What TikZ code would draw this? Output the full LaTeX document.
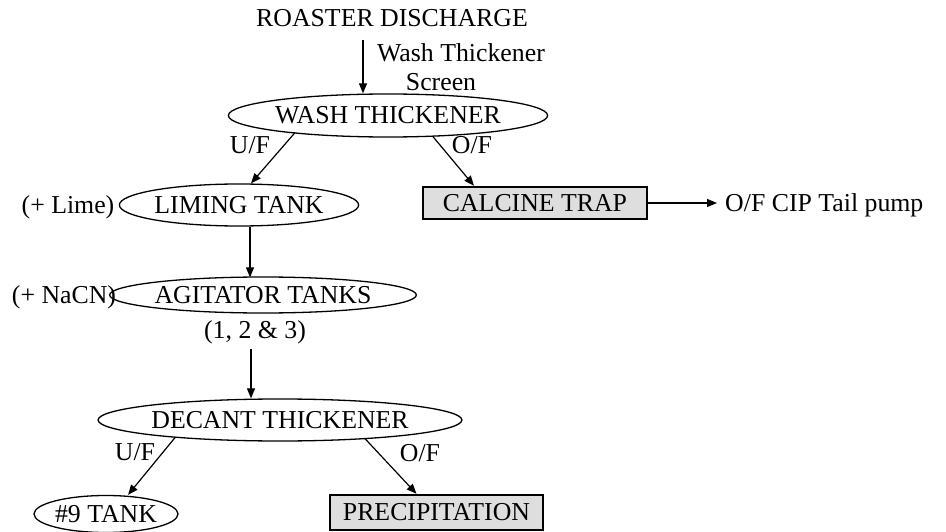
\documentclass[tikz,border=0pt]{standalone}
\usepackage{fontspec}
\setmainfont{Liberation Serif}
\usetikzlibrary{shapes.geometric,arrows.meta}
\definecolor{boxgray}{HTML}{DEDEDE}
\begin{document}
\begin{tikzpicture}[x=1pt,y=1pt,
  font=\fontsize{25.8}{29}\selectfont,
  every node/.style={inner sep=0pt},
  vessel/.style={draw,ellipse,line width=1.3pt},
  outbox/.style={draw,rectangle,line width=2.4pt,fill=boxgray},
  flow/.style={line width=1.2pt,-{Triangle[length=10pt,width=8pt]}},
  tag/.style={}]
\useasboundingbox (0,0) rectangle (946,-532);

% process vessels and product boxes
\node (roast) at (392,-18) {ROASTER DISCHARGE};
\node[vessel,minimum width=272,minimum height=43] (wash) at (388,-115.5) {WASH THICKENER};
\node[vessel,minimum width=228,minimum height=42] (lime) at (239,-205) {LIMING TANK};
\node[outbox,minimum width=224,minimum height=32] (calc) at (535,-203) {CALCINE TRAP};
\node[vessel,minimum width=287,minimum height=36] (agit) at (263,-295) {AGITATOR TANKS};
\node[tag] (agitnum) at (255,-332) {(1, 2 \& 3)};
\node[vessel,minimum width=310,minimum height=42] (dec) at (280,-420) {DECANT THICKENER};
\node[vessel,minimum width=142,minimum height=37] (tank9) at (106,-514) {\#9 TANK};
\node[outbox,minimum width=213,minimum height=35] (prec) at (436.5,-512.5) {PRECIPITATION};

% side annotations
\node[tag] (screen1) at (461,-53) {Wash Thickener};
\node[tag] (screen2) at (441,-82) {Screen};
\node[tag] (addlime) at (68,-207) {(+ Lime)};
\node[tag] (addcn) at (64,-297) {(+ NaCN)};
\node[tag,anchor=west] (cip) at (725,-205) {O/F CIP Tail pump};
\node[tag] (uf1) at (250,-145) {U/F};
\node[tag] (of1) at (472,-145) {O/F};
\node[tag] (uf2) at (135,-452) {U/F};
\node[tag] (of2) at (420,-453) {O/F};

% drop points of the vertical feeds
\coordinate (feedA) at (363,0);
\coordinate (feedB) at (250,0);
\coordinate (feedC) at (251,0);

% flow connectors
\draw[flow] ([yshift=-13pt]roast.south -| feedA) -- (wash.north -| feedA);
\draw[flow] ([xshift=-93pt,yshift=5pt]wash.south) -- ([xshift=12pt]lime.north);
\draw[flow] ([xshift=45pt,yshift=1pt]wash.south) -- ([xshift=-61pt]calc.north);
\draw[flow] (calc.east) -- ([xshift=-8pt]calc.east -| cip.west);
\draw[flow] (lime.south -| feedB) -- ([yshift=-1pt]agit.north -| feedB);
\draw[flow] ([yshift=-5pt]agitnum.south -| feedC) -- (dec.north -| feedC);
\draw[flow] ([xshift=-105pt,yshift=4pt]dec.south) -- ([xshift=22pt]tank9.north);
\draw[flow] ([xshift=85pt,yshift=3pt]dec.south) -- ([xshift=-20pt]prec.north);
\end{tikzpicture}
\end{document}
